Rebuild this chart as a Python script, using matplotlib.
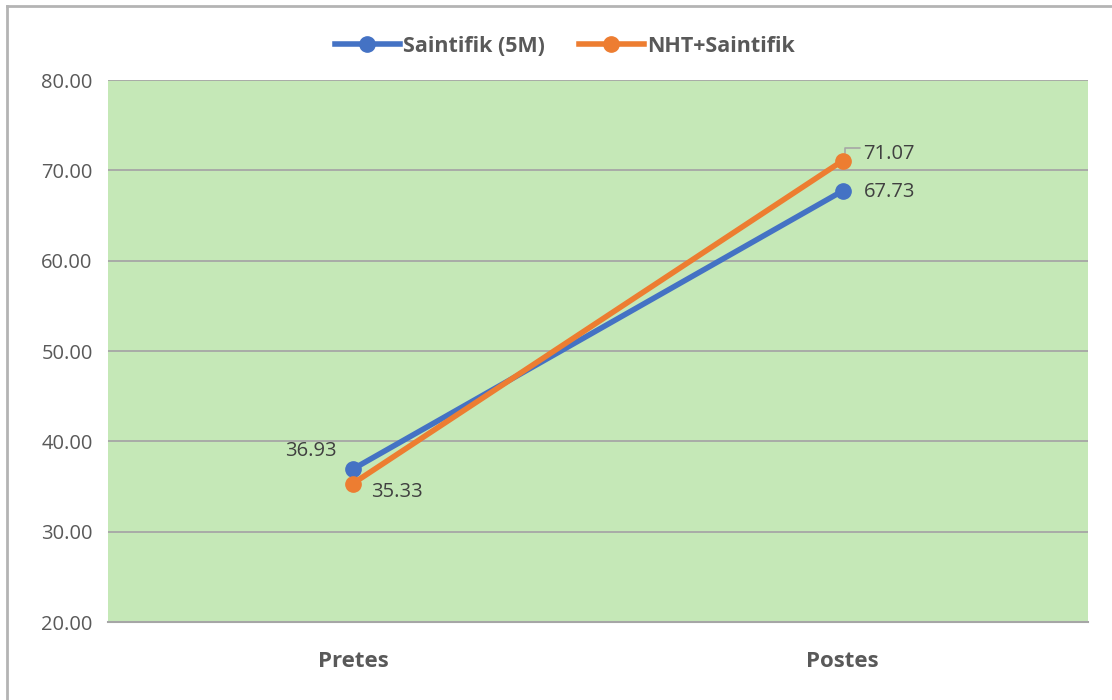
import matplotlib.pyplot as plt
from matplotlib.lines import Line2D

categories = ['Pretes', 'Postes']
saintifik = [36.93, 67.73]
nht_saintifik = [35.33, 71.07]
yticks = [20, 30, 40, 50, 60, 70, 80]

plt.rcParams['font.family'] = ['Open Sans', 'DejaVu Sans']

fig = plt.figure(figsize=(11.12, 7), dpi=100)
ax = fig.add_axes([0.0971, 0.1114, 0.881, 0.7743])
ax.set_facecolor('#c5e8b7')

x = list(range(len(categories)))
blue = '#4472c4'
orange = '#ed7d31'
ax.plot(x, saintifik, color=blue, marker='o', linewidth=4, markersize=11,
        label='Saintifik (5M)', zorder=3, solid_capstyle='round')
ax.plot(x, nht_saintifik, color=orange, marker='o', linewidth=4, markersize=11,
        label='NHT+Saintifik', zorder=4, solid_capstyle='round')

ax.set_xlim(-0.5, 1.5)
ax.set_ylim(20, 80)
ax.set_yticks(yticks)
ax.set_yticklabels([f'{v:.2f}' for v in yticks], fontsize=14.5, color='#595959')
ax.set_xticks(x)
ax.set_xticklabels(categories, fontsize=16, fontweight='bold', color='#595959')
ax.tick_params(axis='both', length=0)
ax.tick_params(axis='y', pad=11)
ax.tick_params(axis='x', pad=21)
ax.grid(axis='y', color='#a6a6a6', linewidth=1.3)
ax.set_axisbelow(True)
for s in ['top', 'right', 'left']:
    ax.spines[s].set_visible(False)
ax.spines['bottom'].set_color('#a6a6a6')
ax.spines['bottom'].set_linewidth(1.5)

# data labels
lab = dict(fontsize=14.5, color='#404040')
ax.annotate(f'{saintifik[0]:.2f}', (x[0], saintifik[0]), xytext=(-12, 13),
            textcoords='offset points', ha='right', va='center', **lab)
ax.annotate(f'{nht_saintifik[0]:.2f}', (x[0], nht_saintifik[0]), xytext=(13, -6),
            textcoords='offset points', ha='left', va='center', **lab)
ax.annotate(f'{saintifik[1]:.2f}', (x[1], saintifik[1]), xytext=(15, -1),
            textcoords='offset points', ha='left', va='center', **lab)
ax.annotate(f'{nht_saintifik[1]:.2f}', (x[1], nht_saintifik[1]), xytext=(15, 5),
            textcoords='offset points', ha='left', va='center', **lab)
# leader line for 71.07
ax.annotate('', (x[1] + 0.005, nht_saintifik[1] + 0.5), xytext=(13, 6),
            textcoords='offset points',
            arrowprops=dict(arrowstyle='-', color='#a6a6a6', lw=1.2,
                            connectionstyle='angle,angleA=0,angleB=90,rad=0'))

handles = [Line2D([0], [0], color=blue, lw=4, marker='o', markersize=11),
           Line2D([0], [0], color=orange, lw=4, marker='o', markersize=11)]
leg = fig.legend(handles, ['Saintifik (5M)', 'NHT+Saintifik'], loc='center',
                 bbox_to_anchor=(0.508, 0.934), ncol=2, frameon=False,
                 prop={'size': 15.5, 'weight': 'bold'}, handlelength=3,
                 columnspacing=1.6, handletextpad=0.15)
for t in leg.get_texts():
    t.set_color('#595959')

# outer frame
fig.add_artist(Line2D([7 / 1112, 7 / 1112], [0, 1 - 6 / 700], color='#b4b4b4',
                      lw=2, transform=fig.transFigure))
fig.add_artist(Line2D([7 / 1112, 1], [1 - 6 / 700, 1 - 6 / 700], color='#b4b4b4',
                      lw=2, transform=fig.transFigure))

fig.savefig('out.png', dpi=100, facecolor='white')
